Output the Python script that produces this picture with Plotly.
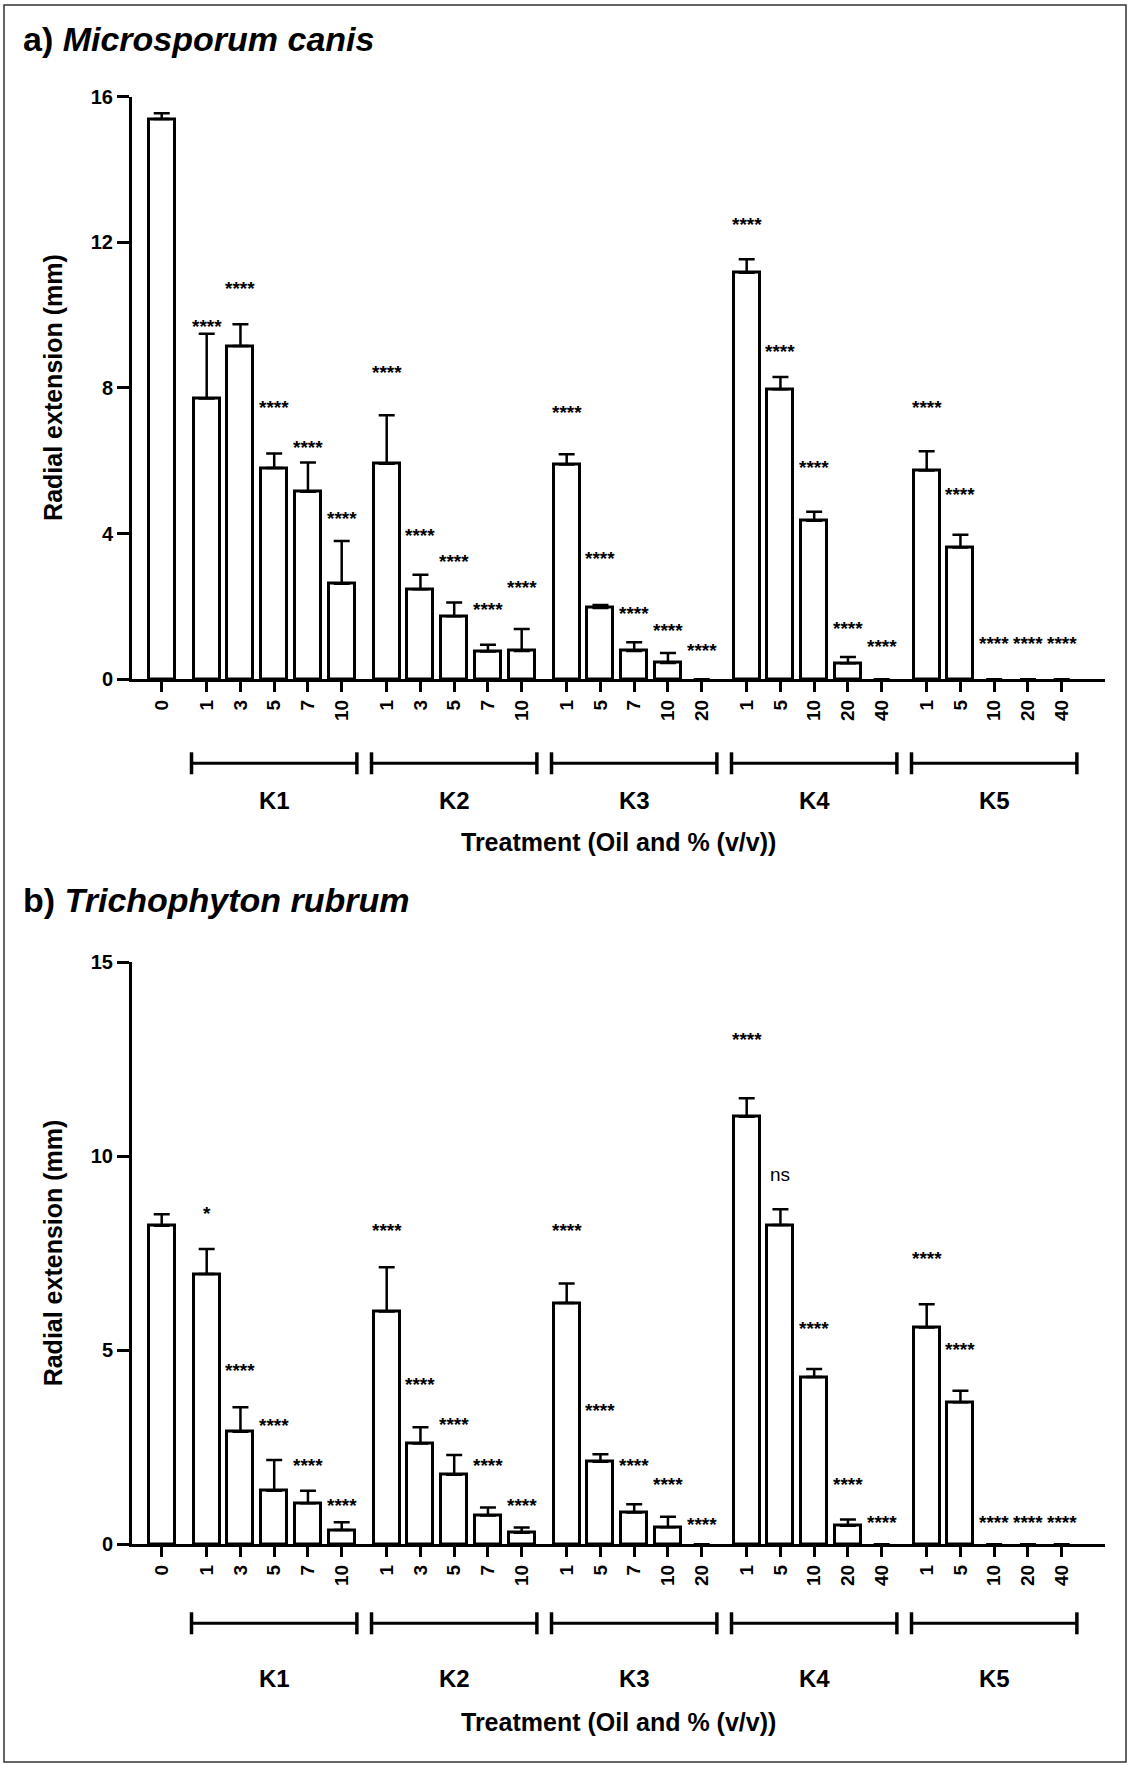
import plotly.graph_objects as go

# ---------------- data ----------------
oils = ["K1", "K2", "K3", "K4", "K5"]
k1_doses = ["1", "3", "5", "7", "10"]
k2_doses = ["1", "3", "5", "7", "10"]
k3_doses = ["1", "5", "7", "10", "20"]
k4_doses = ["1", "5", "10", "20", "40"]
k5_doses = ["1", "5", "10", "20", "40"]
control_label = "0"

# a) Microsporum canis  (mean, +SD)
a_control_mean = 15.38
a_control_sd = 0.16
a_k1_mean = [7.71, 9.15, 5.80, 5.15, 2.62]
a_k1_sd = [1.78, 0.60, 0.40, 0.80, 1.18]
a_k2_mean = [5.92, 2.47, 1.73, 0.76, 0.78]
a_k2_sd = [1.33, 0.40, 0.38, 0.19, 0.60]
a_k3_mean = [5.90, 1.96, 0.78, 0.45, 0.0]
a_k3_sd = [0.28, 0.08, 0.24, 0.27, 0.0]
a_k4_mean = [11.16, 7.96, 4.35, 0.44, 0.0]
a_k4_sd = [0.37, 0.34, 0.25, 0.17, 0.0]
a_k5_mean = [5.73, 3.62, 0.0, 0.0, 0.0]
a_k5_sd = [0.53, 0.35, 0.0, 0.0, 0.0]
a_sig_text = ["****"] * 25
a_sig_y = [9.83, 10.86, 7.60, 6.49, 4.54,
           8.57, 4.08, 3.37, 2.06, 2.66,
           7.45, 3.46, 1.95, 1.49, 0.94,
           12.63, 9.13, 5.94, 1.54, 1.03,
           7.60, 5.20, 1.12, 1.12, 1.12]

# b) Trichophyton rubrum
b_control_mean = 8.21
b_control_sd = 0.30
b_k1_mean = [6.97, 2.90, 1.38, 1.06, 0.37]
b_k1_sd = [0.64, 0.63, 0.79, 0.32, 0.20]
b_k2_mean = [6.00, 2.60, 1.79, 0.74, 0.30]
b_k2_sd = [1.14, 0.42, 0.51, 0.21, 0.13]
b_k3_mean = [6.22, 2.13, 0.82, 0.44, 0.0]
b_k3_sd = [0.50, 0.19, 0.21, 0.27, 0.0]
b_k4_mean = [11.02, 8.23, 4.31, 0.48, 0.0]
b_k4_sd = [0.48, 0.41, 0.21, 0.16, 0.0]
b_k5_mean = [5.59, 3.66, 0.0, 0.0, 0.0]
b_k5_sd = [0.60, 0.30, 0.0, 0.0, 0.0]
b_sig_text = ["*", "****", "****", "****", "****",
              "****", "****", "****", "****", "****",
              "****", "****", "****", "****", "****",
              "****", "ns", "****", "****", "****",
              "****", "****", "****", "****", "****"]
b_sig_y = [8.66, 4.62, 3.20, 2.16, 1.12,
           8.23, 4.26, 3.22, 2.16, 1.12,
           8.21, 3.57, 2.16, 1.66, 0.64,
           13.13, 9.48, 5.70, 1.68, 0.70,
           7.49, 5.16, 0.68, 0.68, 0.68]

# ---------------- layout helpers ----------------
W, H = 1129, 1765
FONT = "Liberation Sans, Arial, sans-serif"

def px_x(p):
    return p / W

def px_y(p):
    return 1 - p / H

dose_lists = [k1_doses, k2_doses, k3_doses, k4_doses, k5_doses]
positions = [0.0]
tick_text = [control_label]
group_centers = []
for k, doses in enumerate(dose_lists):
    grp = []
    for j, d in enumerate(doses):
        p = 1 + 5 * k + j + (k + 1) / 3.0
        positions.append(p)
        tick_text.append(d)
        grp.append(p)
    group_centers.append(sum(grp) / len(grp))

x_range = [-0.88, 27.95]
x_domain = [px_x(132), px_x(1105)]

panels = [
    dict(title="a) <i>Microsporum canis</i>", title_y=39,
         means=[a_control_mean] + a_k1_mean + a_k2_mean + a_k3_mean + a_k4_mean + a_k5_mean,
         sds=[a_control_sd] + a_k1_sd + a_k2_sd + a_k3_sd + a_k4_sd + a_k5_sd,
         sig_text=a_sig_text, sig_y=a_sig_y,
         ymax=16, ydtick=4, y0=679.3, ytop=96.5,
         bracket_y=763.3, klabel_y=800, xtitle_y=842),
    dict(title="b) <i>Trichophyton rubrum</i>", title_y=900,
         means=[b_control_mean] + b_k1_mean + b_k2_mean + b_k3_mean + b_k4_mean + b_k5_mean,
         sds=[b_control_sd] + b_k1_sd + b_k2_sd + b_k3_sd + b_k4_sd + b_k5_sd,
         sig_text=b_sig_text, sig_y=b_sig_y,
         ymax=15, ydtick=5, y0=1544.3, ytop=962.4,
         bracket_y=1623.3, klabel_y=1678, xtitle_y=1722),
]

fig = go.Figure()
annotations = []
shapes = []

for i, pn in enumerate(panels):
    xa = "x" if i == 0 else "x2"
    ya = "y" if i == 0 else "y2"
    xkey = "xaxis" if i == 0 else "xaxis2"
    ykey = "yaxis" if i == 0 else "yaxis2"

    err_plus = [s if s > 0 else None for s in pn["sds"]]
    line_w = [3 if m > 0 else 0 for m in pn["means"]]
    fig.add_trace(go.Bar(
        x=positions, y=pn["means"], width=0.77,
        marker=dict(color="white", line=dict(color="black", width=line_w)),
        error_y=dict(type="data", array=err_plus, arrayminus=[0] * len(err_plus),
                     symmetric=False, color="black", thickness=2.5, width=8),
        xaxis=xa, yaxis=ya, showlegend=False, hoverinfo="skip",
    ))

    fig.layout[xkey] = dict(
        domain=x_domain, range=x_range, anchor=ya, automargin=False,
        showline=True, linecolor="black", linewidth=3,
        ticks="outside", ticklen=10, tickwidth=2.5, tickcolor="black",
        tickvals=positions, ticktext=tick_text, tickangle=-90,
        tickfont=dict(family=FONT, size=19, color="black", weight="bold"),
        showgrid=False, zeroline=False, fixedrange=True,
    )
    fig.layout[ykey] = dict(
        domain=[px_y(pn["y0"]), px_y(pn["ytop"])], range=[0, pn["ymax"]],
        anchor=xa, automargin=False, showline=True, linecolor="black", linewidth=3,
        ticks="outside", ticklen=12, tickwidth=2.5, tickcolor="black",
        tick0=0, dtick=pn["ydtick"],
        tickfont=dict(family=FONT, size=20, color="black", weight="bold"),
        showgrid=False, zeroline=False, fixedrange=True,
    )

    # significance labels
    for p, t, yv in zip(positions[1:], pn["sig_text"], pn["sig_y"]):
        annotations.append(dict(
            x=p, y=yv, xref=xa, yref=ya, text=t, showarrow=False,
            xanchor="center", yanchor="middle",
            yshift=(-5 if "*" in t else 2),
            font=dict(family=FONT, size=19, color="black",
                      weight=("bold" if "*" in t else "normal")),
        ))

    # group brackets and labels
    by = px_y(pn["bracket_y"])
    cap = 11 / H
    for name, c in zip(oils, group_centers):
        x0, x1 = c - 2.45, c + 2.45
        shapes.append(dict(type="line", xref=xa, yref="paper", x0=x0, x1=x1, y0=by, y1=by,
                           line=dict(color="black", width=3)))
        for xe in (x0, x1):
            shapes.append(dict(type="line", xref=xa, yref="paper", x0=xe, x1=xe,
                               y0=by - cap, y1=by + cap, line=dict(color="black", width=3.5)))
        annotations.append(dict(
            x=c, y=px_y(pn["klabel_y"]), xref=xa, yref="paper", text=name,
            showarrow=False, xanchor="center", yanchor="middle",
            font=dict(family=FONT, size=24, color="black", weight="bold"),
        ))

    # axis titles
    annotations.append(dict(
        x=px_x(618), y=px_y(pn["xtitle_y"]), xref="paper", yref="paper",
        text="Treatment (Oil and % (v/v))", showarrow=False,
        xanchor="center", yanchor="middle",
        font=dict(family=FONT, size=25, color="black", weight="bold"),
    ))
    annotations.append(dict(
        x=px_x(53), y=px_y((pn["y0"] + pn["ytop"]) / 2), xref="paper", yref="paper",
        text="Radial extension (mm)", showarrow=False, textangle=-90,
        xanchor="center", yanchor="middle",
        font=dict(family=FONT, size=25, color="black", weight="bold"),
    ))
    # panel title
    annotations.append(dict(
        x=px_x(21), y=px_y(pn["title_y"]), xref="paper", yref="paper",
        text=pn["title"], showarrow=False, xanchor="left", yanchor="middle",
        font=dict(family=FONT, size=34, color="black", weight="bold"),
    ))

# outer frame
shapes.append(dict(type="rect", xref="paper", yref="paper",
                   x0=px_x(4), x1=px_x(1126), y0=px_y(1762), y1=px_y(5),
                   line=dict(color="#333333", width=1.5)))

fig.update_layout(
    template="none",
    width=W, height=H,
    margin=dict(l=0, r=0, t=0, b=0, pad=0, autoexpand=False),
    paper_bgcolor="white", plot_bgcolor="white",
    font=dict(family=FONT, color="black"),
    annotations=annotations, shapes=shapes,
    bargap=0, showlegend=False,
)

fig.write_html(
    "out.html",
    config={"responsive": False, "displayModeBar": False},
    post_script="document.body.style.margin='0';document.body.style.padding='0';"
                "document.documentElement.style.overflow='hidden';",
)
